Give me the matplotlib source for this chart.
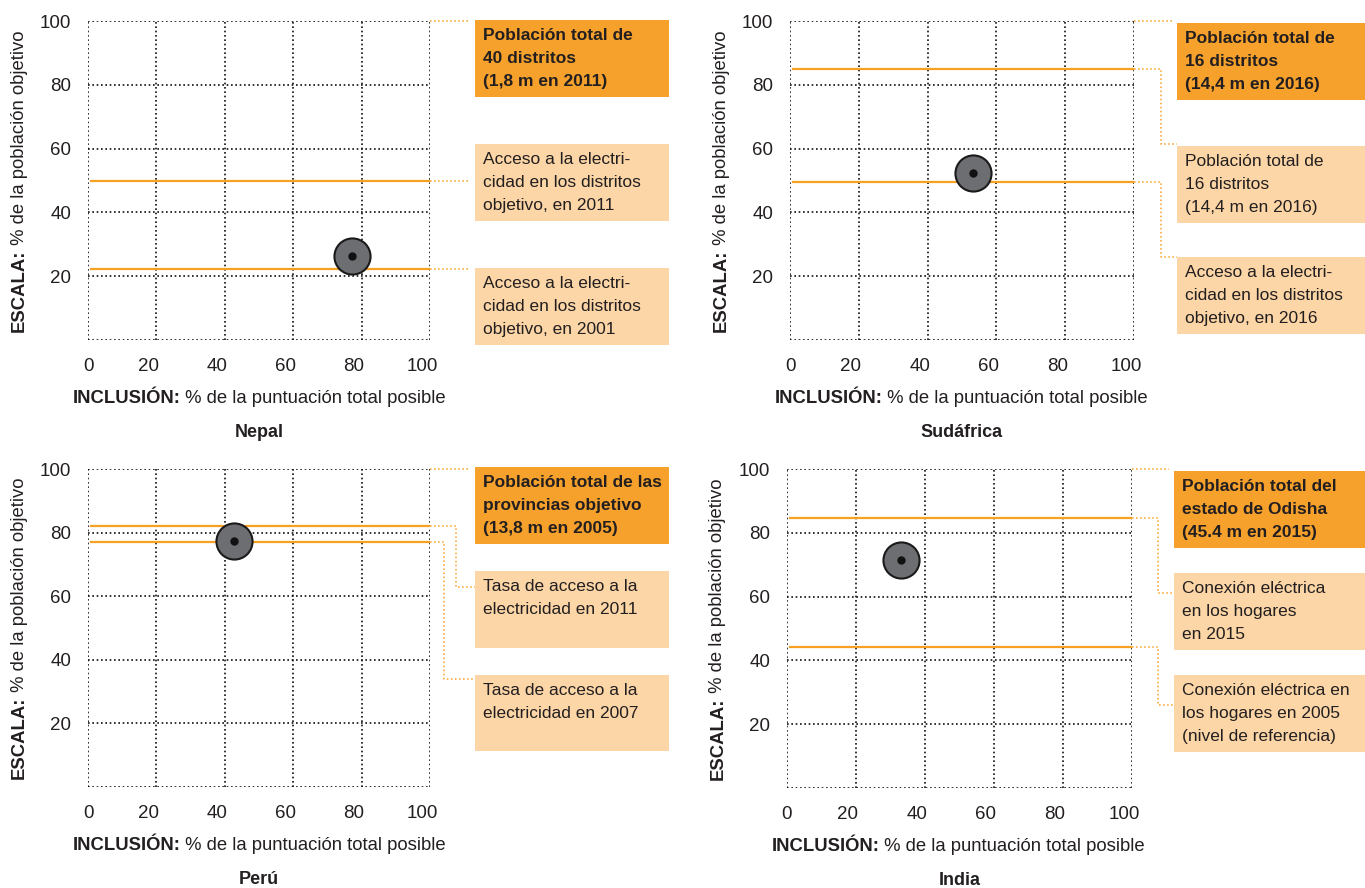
import matplotlib.pyplot as plt
from matplotlib.patches import Rectangle
from matplotlib.transforms import ScaledTranslation

plt.rcParams['font.family'] = ['Liberation Sans', 'DejaVu Sans']

# data
countries = ['Nepal', 'Sudáfrica', 'Perú', 'India']
inclusion = [77.1, 53.3, 42.8, 33.0]
scale = [26.3, 52.4, 77.5, 71.6]

nepal_levels = [49.9, 22.3]
sudafrica_levels = [85.0, 49.4]
peru_levels = [82.0, 77.0]
india_levels = [84.7, 44.3]

ticks = [0, 20, 40, 60, 80, 100]
ytick_labels = ['', '20', '40', '60', '80', '100']

nepal_notes = ['Población total de\n40 distritos\n(1,8 m en 2011)',
               'Acceso a la electri-\ncidad en los distritos\nobjetivo, en 2011',
               'Acceso a la electri-\ncidad en los distritos\nobjetivo, en 2001']
sudafrica_notes = ['Población total de\n16 distritos\n(14,4 m en 2016)',
                   'Población total de\n16 distritos\n(14,4 m en 2016)',
                   'Acceso a la electri-\ncidad en los distritos\nobjetivo, en 2016']
peru_notes = ['Población total de las\nprovincias objetivo\n(13,8 m en 2005)',
              'Tasa de acceso a la\nelectricidad en 2011',
              'Tasa de acceso a la\nelectricidad en 2007']
india_notes = ['Población total del\nestado de Odisha\n(45.4 m en 2015)',
               'Conexión eléctrica\nen los hogares\nen 2015',
               'Conexión eléctrica en\nlos hogares en 2005\n(nivel de referencia)']

levels = [nepal_levels, sudafrica_levels, peru_levels, india_levels]
notes = [nepal_notes, sudafrica_notes, peru_notes, india_notes]

ORANGE = '#f7a124'
DARK_BOX = '#f6a12c'
LIGHT_BOX = '#fcd6a6'
TEXT = '#231f20'
W, H = 1365, 888

# layout in pixels (left, top, right, bottom)
axes_px = [(88, 21, 430, 340), (790, 21, 1134, 340),
           (88, 469, 430, 787), (787, 469, 1132, 788)]
boxes_px = [[(475, 20, 669, 97), (475, 144, 669, 221), (475, 268, 669, 345)],
            [(1177, 23, 1365, 100), (1177, 146, 1365, 223), (1177, 257, 1365, 334)],
            [(475, 467, 669, 544), (475, 571, 669, 648), (475, 675, 669, 751)],
            [(1174, 471, 1365, 548), (1174, 573, 1365, 650), (1174, 675, 1365, 752)]]
# connector: (elbow x, target y, end x); elbow None = straight
connectors = [[(None, None, 470), (None, None, 470), (None, None, 470)],
              [(None, None, 1173), (1161, 144, 1177), (1161, 257, 1177)],
              [(None, None, 470), (456, 587, 475), (444, 679, 475)],
              [(None, None, 1169), (1158, 593, 1174), (1158, 705, 1174)]]

fig = plt.figure(figsize=(W / 100, H / 100), dpi=100)


def fx(px):
    return px / W


def fy(py):
    return 1 - py / H


for i, name in enumerate(countries):
    l, t, r, b = axes_px[i]
    ax = fig.add_axes([fx(l), fy(b), fx(r - l), (b - t) / H])
    ax.set_xlim(0, 100)
    ax.set_ylim(0, 100)
    ax.set_xticks(ticks)
    ax.set_yticks(ticks)
    ax.set_yticklabels(ytick_labels)
    ax.tick_params(length=0, labelsize=13.5, colors=TEXT, pad=12)
    ax.tick_params(axis='x', pad=13)
    for s in ax.spines.values():
        s.set_visible(False)
    ax.grid(True, color='#111111', linestyle=(0, (1, 1.6)), linewidth=1.2)
    ax.set_axisbelow(True)
    off = ScaledTranslation(-8 / 100, 0, fig.dpi_scale_trans)
    for lab in ax.get_xticklabels()[1:]:
        lab.set_transform(lab.get_transform() + off)

    for v in levels[i]:
        ax.axhline(v, xmin=0.01, xmax=1, color=ORANGE, lw=1.6, zorder=3)

    ax.plot(inclusion[i], scale[i], 'o', ms=26, mfc='#6d6e71', mec='#1a1a1a',
            mew=1.5, zorder=5)
    ax.plot(inclusion[i], scale[i], 'o', ms=5, color='#111111', zorder=6)

    # axis labels: bold part + regular part
    t1 = ax.text(-0.045, -0.21, 'INCLUSIÓN:', transform=ax.transAxes,
                 fontsize=13.3, fontweight='bold', color=TEXT, ha='left', va='bottom')
    ax.annotate(' % de la puntuación total posible', xy=(1, 0), xycoords=t1,
                fontsize=13.3, color=TEXT, ha='left', va='bottom')
    t2 = ax.text(-0.2, 0.025, 'ESCALA:', transform=ax.transAxes, rotation=90,
                 fontsize=13.3, fontweight='bold', color=TEXT, ha='center', va='bottom')
    ax.annotate(' % de la población objetivo', xy=(0.5, 1), xycoords=t2,
                rotation=90, fontsize=13.3, color=TEXT, ha='center', va='bottom')
    ax.text(0.5, -0.29, name, transform=ax.transAxes, fontsize=13,
            fontweight='bold', color=TEXT, ha='center', va='center')

    # annotation boxes
    for j, (bx0, by0, bx1, by1) in enumerate(boxes_px[i]):
        fc = DARK_BOX if j == 0 else LIGHT_BOX
        fig.patches.append(Rectangle((fx(bx0), fy(by1)), fx(bx1 - bx0), (by1 - by0) / H,
                                     transform=fig.transFigure, facecolor=fc,
                                     edgecolor='none'))
        fig.text(fx(bx0 + 8), fy(by0 + 8), notes[i][j], fontsize=12.5,
                 fontweight='bold' if j == 0 else 'normal', color=TEXT,
                 ha='left', va='top', linespacing=1.65)

    # dotted connectors from each level to its box
    conn_levels = [100] + levels[i]
    for j, v in enumerate(conn_levels):
        ydisp = ax.transData.transform((0, v))[1]
        yline = H - ydisp
        ex, ty, endx = connectors[i][j]
        if ex is None:
            xs = [r, endx]
            ys = [yline, yline]
        else:
            xs = [r, ex, ex, endx]
            ys = [yline, yline, ty, ty]
        fig.lines.append(plt.Line2D([fx(x) for x in xs], [fy(y) for y in ys],
                                    transform=fig.transFigure, color=ORANGE,
                                    lw=1.1, linestyle=':'))

fig.savefig('out.png', dpi=100)
